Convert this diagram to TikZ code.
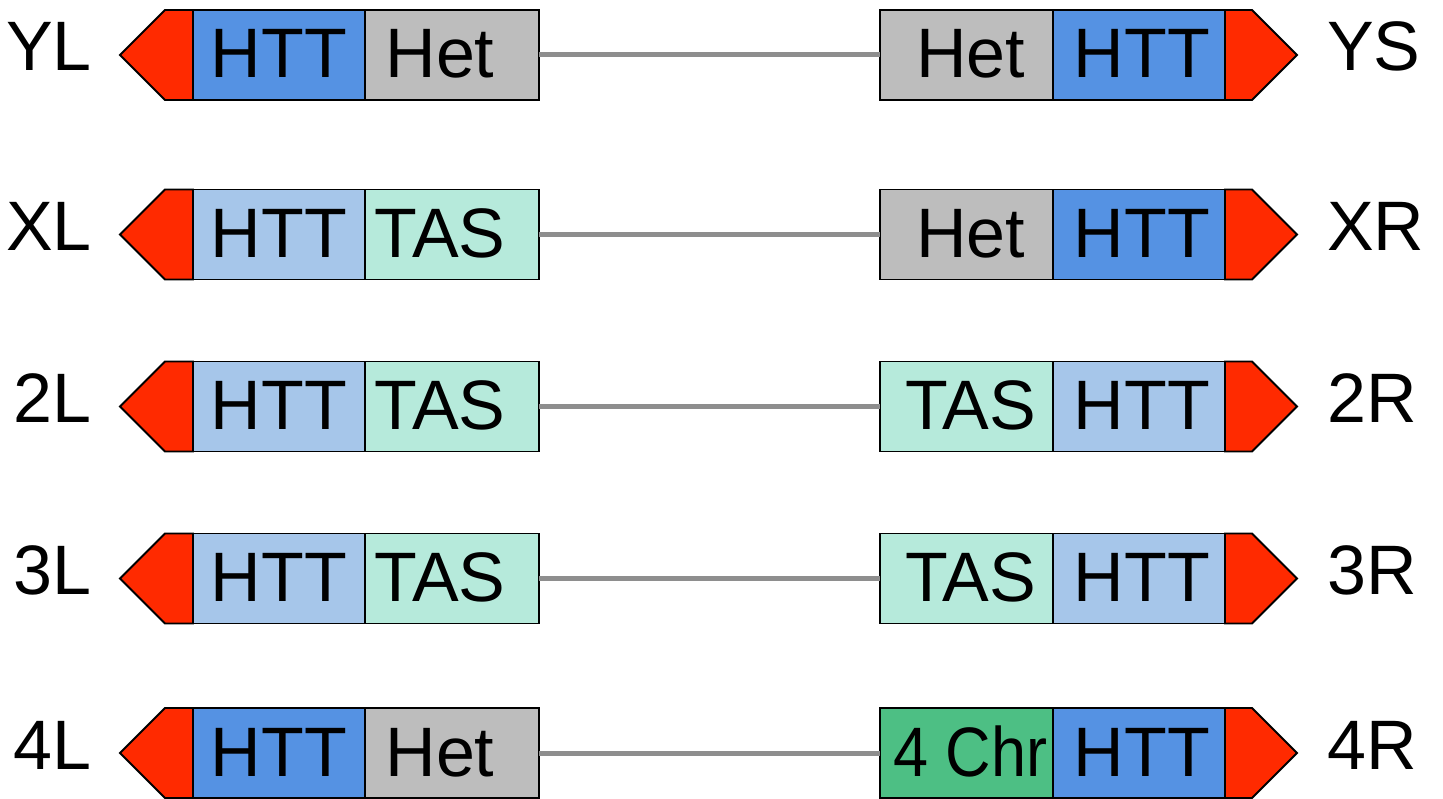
\documentclass[tikz,border=0pt]{standalone}
\usepackage{fontspec}
\setmainfont{Liberation Sans}
\definecolor{redtip}{HTML}{FF2A00}
\definecolor{htdark}{HTML}{5592E3}
\definecolor{htlight}{HTML}{A6C6EA}
\definecolor{tas}{HTML}{B6EADB}
\definecolor{het}{HTML}{BDBDBD}
\definecolor{chr}{HTML}{4DBF84}
\definecolor{link}{HTML}{8E8E8E}
\tikzset{
  seg/.style={draw=black, line width=1.8pt, minimum height=90pt, inner sep=0pt, outer sep=0pt, anchor=west},
  tip/.style={fill=redtip, draw=black, line width=1.8pt, line join=miter},
  txt/.style={font=\fontsize{70}{80}\selectfont, inner sep=0pt, anchor=base},
  lbl/.style={font=\fontsize{70}{80}\selectfont, inner sep=0pt},
  linkline/.style={draw=link, line width=5pt}
}
% #1 y-center, #2 name, #3 left label, #4 left HTT colour, #5 left 2nd text, #6 left 2nd colour,
% #7 right 1st text, #8 right 1st colour, #9 right HTT colour, then right label via \rowlabel
\newcommand{\chromrow}[9]{%
  \node[seg, fill=#4, minimum width=172pt] (#2lh) at (193,#1) {};
  \node[seg, fill=#6, minimum width=174pt] (#2ls) at (365,#1) {};
  \node[seg, fill=#8, minimum width=173pt] (#2rs) at (880,#1) {};
  \node[seg, fill=#9, minimum width=172pt] (#2rh) at (1053,#1) {};
  \draw[linkline] (#2ls.east) -- (#2rs.west);
  \draw[tip] (#2lh.north west) -- ++(-28,0) -- ++(-45,45) -- ++(45,45) -- (#2lh.south west) -- cycle;
  \draw[tip] (#2rh.north east) -- ++(27,0) -- ++(45,45) -- ++(-45,45) -- (#2rh.south east) -- cycle;
  \node[txt] (#2lht) at ([yshift=-23pt]#2lh.center) {HTT};
  \node[txt] (#2lst) at ([xshift=-12pt,yshift=-23pt]#2ls.center) {#5};
  \node[txt] (#2rst) at ([xshift=4pt,yshift=-23pt]#2rs.center) {#7};
  \node[txt] (#2rht) at ([xshift=3pt,yshift=-23pt]#2rh.center) {HTT};
  \node[lbl, anchor=base east] (#2ll) at (92,#1+16) {#3};
}
\begin{document}
\begin{tikzpicture}[x=1pt,y=-1pt]
\fill[white] (0,0) rectangle (1443,799);
\useasboundingbox (0,0) rectangle (1443,799);
\chromrow{55}{a}{YL}{htdark}{Het}{het}{Het}{het}{htdark}
\node[lbl, anchor=base west] (arl) at (1327,71) {YS};
\chromrow{234.5}{b}{XL}{htlight}{TAS}{tas}{Het}{het}{htdark}
\node[lbl, anchor=base west] (brl) at (1327,250.5) {XR};
\chromrow{406.5}{c}{2L}{htlight}{TAS}{tas}{TAS}{tas}{htlight}
\node[lbl, anchor=base west] (crl) at (1327,422.5) {2R};
\chromrow{578.5}{d}{3L}{htlight}{TAS}{tas}{TAS}{tas}{htlight}
\node[lbl, anchor=base west] (drl) at (1327,594.5) {3R};
\chromrow{753}{e}{4L}{htdark}{Het}{het}{\scalebox{0.9}[1]{4 Chr}}{chr}{htdark}
\node[lbl, anchor=base west] (erl) at (1327,769) {4R};
\end{tikzpicture}
\end{document}
